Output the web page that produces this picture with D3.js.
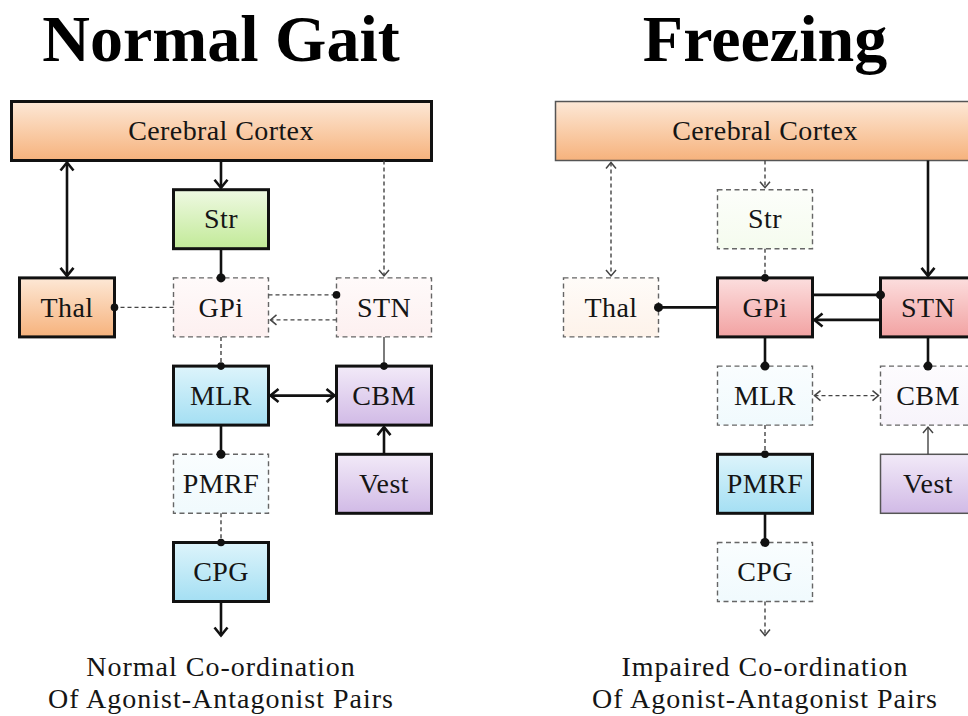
<!DOCTYPE html>
<html>
<head>
<meta charset="utf-8">
<script src="https://cdn.jsdelivr.net/npm/d3@7"></script>
<style>
  body { margin: 0; background: #fff; }
  text { font-family: "Liberation Serif", "Times New Roman", serif; fill: #151515; }
</style>
</head>
<body>
<script>
// パネル
const panels = ["Normal Gait", "Freezing"];
const outcomes = [
  ["Normal Co-ordination", "Of Agonist-Antagonist Pairs"],
  ["Impaired Co-ordination", "Of Agonist-Antagonist Pairs"]
];

// ノード (列・行はカテゴリ)
const rowNames  = ["cortex", "striatum", "pallidum", "locomotor", "reticular", "spinal"];
const nodeNames = ["Cerebral Cortex", "Thal", "Str", "GPi", "STN", "MLR", "CBM", "PMRF", "Vest", "CPG"];
const nodeCols  = ["all", "side", "mid", "mid", "far", "mid", "far", "mid", "far", "mid"];
const nodeRows  = ["cortex", "pallidum", "striatum", "pallidum", "pallidum", "locomotor", "locomotor", "reticular", "reticular", "spinal"];
const nodeHues  = ["orange", "orange", "green", "pink", "pink", "blue", "purple", "blue", "purple", "blue"];
// on = 活動, off = 低下(破線), weak = 細線
const nodeStates = [
  ["on", "on", "on", "off", "off", "on", "on", "off", "on", "on"],
  ["weak", "off", "off", "on", "on", "off", "off", "on", "weak", "off"]
];

// 結合
const linkSource = ["Cerebral Cortex", "Cerebral Cortex", "Cerebral Cortex", "Str", "GPi", "GPi", "STN", "GPi", "STN", "MLR", "MLR", "Vest", "PMRF", "CPG"];
const linkTarget = ["Thal", "Str", "STN", "GPi", "Thal", "STN", "GPi", "MLR", "CBM", "CBM", "PMRF", "CBM", "CPG", "output"];
const linkKind   = ["both", "arrow", "arrow", "dot", "dot", "dot", "arrow", "dot", "dot", "both", "dot", "arrow", "dot", "arrow"];
const linkStates = [
  ["on", "on", "off", "on", "off", "off", "off", "off", "weak", "on", "on", "on", "off", "on"],
  ["off", "off", "on", "off", "on", "on", "on", "on", "on", "off", "off", "weak", "on", "off"]
];

const width = 968;
const height = 716;

const svg = d3.select("body")
  .append("svg")
  .attr("width", width)
  .attr("height", height);

// グラデーション
const hues = {
  orange: ["#fde8d6", "#f6b27c"],
  green:  ["#eff9e3", "#c2ea98"],
  pink:   ["#fcdede", "#f2a2a2"],
  blue:   ["#ddf4fb", "#a4dff3"],
  purple: ["#f2eaf8", "#d1bae6"]
};
const defs = svg.append("defs");
Object.entries(hues).forEach(([k, c]) => {
  const g = defs.append("linearGradient").attr("id", "g-" + k)
    .attr("x1", 0).attr("y1", 0).attr("x2", 0).attr("y2", 1);
  g.append("stop").attr("offset", "0%").attr("stop-color", c[0]);
  g.append("stop").attr("offset", "100%").attr("stop-color", c[1]);
});

const panelX = d3.scaleBand().domain(panels).range([0, 1088]);
const colX = d3.scaleOrdinal().domain(["side", "mid", "far"]).range([67, 221, 384]);
const rowY = d3.scalePoint().domain(rowNames).range([131, 572]);
const boxW = 95, boxH = 59;

function makeBox(i) {
  const cy = rowY(nodeRows[i]);
  let x0, x1;
  if (nodeCols[i] === "all") {
    x0 = colX("side") - boxW / 2 - 8;
    x1 = colX("far") + boxW / 2;
  } else {
    x0 = colX(nodeCols[i]) - boxW / 2;
    x1 = x0 + boxW;
  }
  return { name: nodeNames[i], col: nodeCols[i], hue: nodeHues[i],
           x0, x1, y0: cy - boxH / 2, y1: cy + boxH / 2, cx: (x0 + x1) / 2, cy };
}
const boxes = nodeNames.map((d, i) => makeBox(i));
const byName = Object.fromEntries(boxes.map(b => [b.name, b]));
const cpg = byName["CPG"];
byName.output = { name: "output", col: "mid", x0: cpg.cx, x1: cpg.cx,
                  y0: cpg.y1 + 36, y1: cpg.y1 + 36, cx: cpg.cx, cy: cpg.y1 + 36 };

function linkGeom(i) {
  const s = byName[linkSource[i]], t = byName[linkTarget[i]];
  if (s.col === "all" || s.col === t.col) {
    const x = s.col === "all" ? t.cx : s.cx;
    return t.cy > s.cy ? [x, s.y1, x, t.y0] : [x, s.y0, x, t.y1];
  }
  // 双方向のペアは上下にずらす
  const paired = linkSource.some((n, j) => n === linkTarget[i] && linkTarget[j] === linkSource[i]);
  const y = s.cy + (paired ? (s.cx < t.cx ? -12.5 : 12.5) : 0);
  return t.cx > s.cx ? [s.x1, y, t.x0, y] : [s.x0, y, t.x1, y];
}

const lineStyle = {
  on:   { stroke: "#111", w: 2.6, dash: null, L: 8, W: 6.5, r: 4.5 },
  weak: { stroke: "#444", w: 1.4, dash: null, L: 6, W: 5, r: 3.8 },
  off:  { stroke: "#444", w: 1.4, dash: "4,3", L: 6, W: 5, r: 3.8 }
};
const boxStyle = {
  on:   { stroke: "#111", w: 3, dash: null, op: 1 },
  weak: { stroke: "#555", w: 1.5, dash: null, op: 1 },
  off:  { stroke: "#666", w: 1.4, dash: "5,3.5", op: 0.16 }
};

function chevron(tx, ty, dx, dy, st) {
  const nx = -dy, ny = dx;
  const bx = tx - dx * st.L, by = ty - dy * st.L;
  return `M${bx + nx * st.W},${by + ny * st.W}L${tx},${ty}L${bx - nx * st.W},${by - ny * st.W}`;
}

panels.forEach((p, pi) => {
  const g = svg.append("g").attr("transform", `translate(${panelX(p)},0)`);

  g.append("text")
    .attr("x", colX("mid"))
    .attr("y", 61)
    .attr("text-anchor", "middle")
    .style("font-size", "66px")
    .style("font-weight", "bold")
    .style("fill", "#000")
    .text(p);

  // 箱
  const nodes = g.selectAll(".node")
    .data(boxes)
    .enter()
    .append("g")
    .classed("node", true);

  nodes.append("rect")
    .attr("x", d => d.x0)
    .attr("y", d => d.y0)
    .attr("width", d => d.x1 - d.x0)
    .attr("height", d => d.y1 - d.y0)
    .attr("fill", d => `url(#g-${d.hue})`)
    .attr("fill-opacity", (d, i) => boxStyle[nodeStates[pi][i]].op)
    .attr("stroke", (d, i) => boxStyle[nodeStates[pi][i]].stroke)
    .attr("stroke-width", (d, i) => boxStyle[nodeStates[pi][i]].w)
    .attr("stroke-dasharray", (d, i) => boxStyle[nodeStates[pi][i]].dash);

  nodes.append("text")
    .attr("x", d => d.col === "all" ? colX("mid") : d.cx)
    .attr("y", d => d.cy)
    .attr("dy", "0.33em")
    .attr("text-anchor", "middle")
    .style("font-size", "28px")
    .style("letter-spacing", "0.4px")
    .text(d => d.name);

  // 結合
  linkSource.forEach((s, i) => {
    const st = lineStyle[linkStates[pi][i]];
    let [x1, y1, x2, y2] = linkGeom(i);
    const len = Math.hypot(x2 - x1, y2 - y1);
    const dx = (x2 - x1) / len, dy = (y2 - y1) / len;
    const gap = 2;
    if (linkKind[i] === "arrow" || linkKind[i] === "both") { x2 -= dx * gap; y2 -= dy * gap; }
    if (linkKind[i] === "both") { x1 += dx * gap; y1 += dy * gap; }

    g.append("line")
      .attr("x1", x1).attr("y1", y1).attr("x2", x2).attr("y2", y2)
      .attr("stroke", st.stroke)
      .attr("stroke-width", st.w)
      .attr("stroke-dasharray", st.dash);

    const head = (tx, ty, ux, uy) => g.append("path")
      .attr("d", chevron(tx, ty, ux, uy, st))
      .attr("fill", "none")
      .attr("stroke", st.stroke)
      .attr("stroke-width", Math.max(st.w, 1.5));

    if (linkKind[i] === "arrow" || linkKind[i] === "both") head(x2, y2, dx, dy);
    if (linkKind[i] === "both") head(x1, y1, -dx, -dy);
    if (linkKind[i] === "dot") {
      g.append("circle")
        .attr("cx", x2).attr("cy", y2)
        .attr("r", st.r)
        .attr("fill", "#111");
    }
  });

  // 結果
  g.selectAll(".outcome")
    .data(outcomes[pi])
    .enter()
    .append("text")
    .classed("outcome", true)
    .attr("x", colX("mid"))
    .attr("y", (d, i) => 676 + i * 32)
    .attr("text-anchor", "middle")
    .style("font-size", "28px")
    .style("letter-spacing", "1px")
    .text(d => d);
});
</script>
</body>
</html>
